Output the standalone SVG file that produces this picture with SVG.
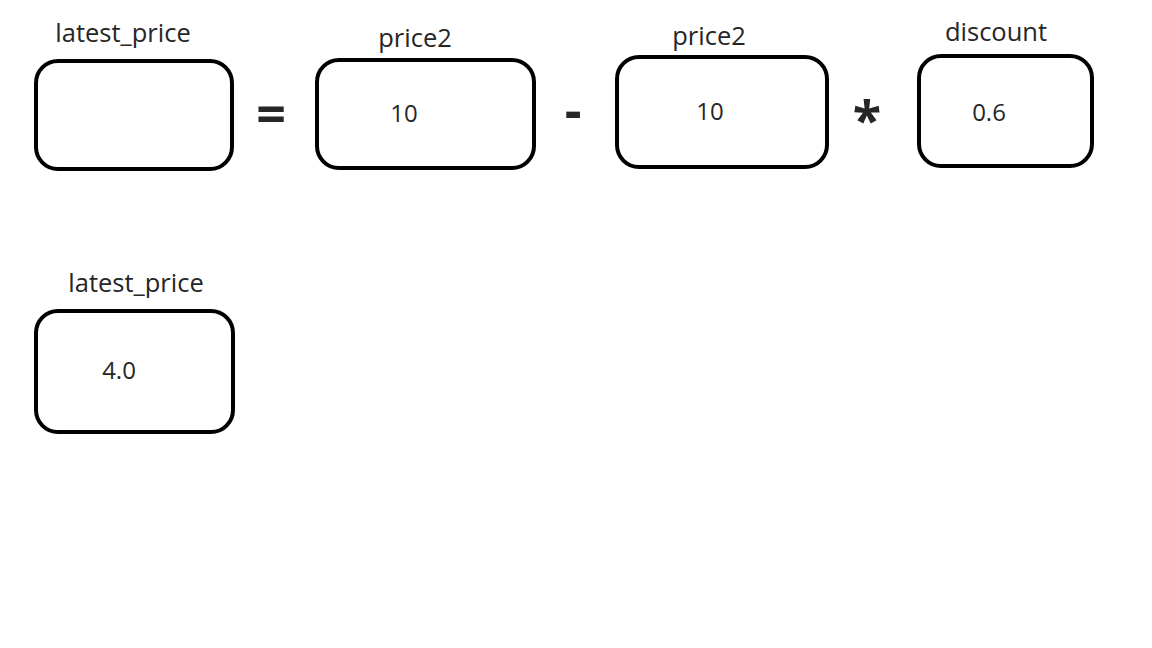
<svg xmlns="http://www.w3.org/2000/svg" width="1152" height="648" viewBox="0 0 1152 648">
<style>
.box{fill:#fff;stroke:#000;stroke-width:4}
.lbl{font-family:"Open Sans","Noto Sans",sans-serif;font-size:25.5px;fill:#262626;text-anchor:middle}
.val{font-family:"Open Sans","Noto Sans",sans-serif;font-size:24px;fill:#262626;text-anchor:middle}
.op{font-family:"Open Sans","Noto Sans",sans-serif;font-size:52px;font-weight:bold;fill:#262626;text-anchor:middle}
</style>
<rect width="1152" height="648" fill="#fff"/>
<g id="latest_price_1">
<rect class="box" x="36" y="61" width="196" height="108" rx="22"/>
<text class="lbl" x="123" y="42">latest_price</text>
</g>
<g id="op_eq"><text class="op" x="271" y="133">=</text></g>
<g id="price2_a">
<rect class="box" x="317" y="60" width="217" height="108" rx="22"/>
<text class="lbl" x="415" y="47">price2</text>
<text class="val" x="404" y="122">10</text>
</g>
<g id="op_minus"><text class="op" x="573" y="129">-</text></g>
<g id="price2_b">
<rect class="box" x="617" y="57" width="210" height="110" rx="22"/>
<text class="lbl" x="709" y="45">price2</text>
<text class="val" x="710" y="120">10</text>
</g>
<g id="op_mul"><text class="op" x="867" y="139">*</text></g>
<g id="discount">
<rect class="box" x="919" y="56" width="173" height="110" rx="22"/>
<text class="lbl" x="996" y="41">discount</text>
<text class="val" x="989" y="121">0.6</text>
</g>
<g id="latest_price_2">
<rect class="box" x="36" y="311" width="197" height="121" rx="22"/>
<text class="lbl" x="136" y="292">latest_price</text>
<text class="val" x="119" y="379">4.0</text>
</g>
<g id="connectors"></g>
</svg>
